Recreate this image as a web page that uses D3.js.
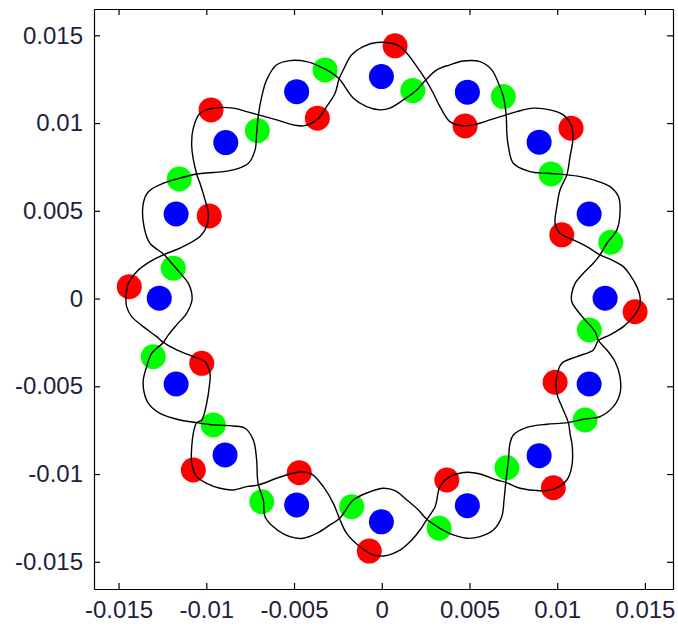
<!DOCTYPE html>
<html>
<head>
<meta charset="utf-8">
<script src="https://cdn.jsdelivr.net/npm/d3@7"></script>
<style>
  body { margin: 0; background: #fff; }
  svg { display: block; }
  .tick text { font-family: "Liberation Sans", Arial, sans-serif; font-size: 24px; fill: #1e1e3c; }
  .domain, .tick line { stroke: #000; stroke-width: 1.2; }
</style>
</head>
<body>
<div id="chart"></div>
<script>
const width = 678,
    height = 626,
    margin = { top: 9, bottom: 37, left: 94, right: 5 },
    radius = 12.5;

// tick labels
const xTicks = [-0.015, -0.01, -0.005, 0, 0.005, 0.01, 0.015];
const yTicks = [-0.015, -0.01, -0.005, 0, 0.005, 0.01, 0.015];

// marker positions
const bluePts = [
    [-0.00002, 0.01265], [0.00488, 0.01176], [0.00897, 0.00891], [0.01182, 0.00482],
    [0.01273, 0.00002], [0.01182, -0.00487], [0.00897, -0.00895], [0.00488, -0.01180],
    [-0.00002, -0.01272], [-0.00485, -0.01176], [-0.00893, -0.00891], [-0.01172, -0.00487],
    [-0.01268, 0.00002], [-0.01172, 0.00482], [-0.00889, 0.00889], [-0.00485, 0.01179]
];

const redPts = [
    [0.00076, 0.01440], [0.00475, 0.00984], [0.01079, 0.00971], [0.01026, 0.00363],
    [0.01444, -0.00075], [0.00988, -0.00477], [0.00978, -0.01078], [0.00371, -0.01034],
    [-0.00071, -0.01439], [-0.00470, -0.00992], [-0.01074, -0.00977], [-0.01026, -0.00369],
    [-0.01439, 0.00068], [-0.00983, 0.00471], [-0.00973, 0.01075], [-0.00367, 0.01028]
];

const greenPts = [
    [-0.00323, 0.01303], [0.00177, 0.01185], [0.00693, 0.01151], [0.00965, 0.00710],
    [0.01305, 0.00321], [0.01183, -0.00179], [0.01159, -0.00692], [0.00713, -0.00964],
    [0.00327, -0.01309], [-0.00171, -0.01186], [-0.00684, -0.01158], [-0.00960, -0.00720],
    [-0.01302, -0.00331], [-0.01188, 0.00173], [-0.01154, 0.00682], [-0.00709, 0.00957]
];

// the black curve, two closed strands that weave around the blue dots
const strandA = [
    [-0.00243, 0.01252],
    [-0.00219, 0.01303], [-0.00171, 0.01389], [-0.00105, 0.01436], [-0.00029, 0.01459], [0.00086, 0.01446], [0.00143, 0.01398], [0.00200, 0.01322],
    [0.00251, 0.01246],
    [0.00294, 0.01170], [0.00332, 0.01094], [0.00389, 0.01008], [0.00465, 0.00984], [0.00542, 0.00995], [0.00617, 0.01018],
    [0.00709, 0.01047],
    [0.00770, 0.01065], [0.00864, 0.01085], [0.00959, 0.01075], [0.01035, 0.01047], [0.01083, 0.00980], [0.01089, 0.00904], [0.01073, 0.00809],
    [0.01055, 0.00705],
    [0.01016, 0.00619], [0.00998, 0.00524], [0.00988, 0.00429], [0.01016, 0.00372], [0.01092, 0.00334], [0.01169, 0.00296],
    [0.01244, 0.00249],
    [0.01311, 0.00220], [0.01377, 0.00182], [0.01415, 0.00135], [0.01454, 0.00068], [0.01472, 0.00011], [0.01468, -0.00046], [0.01434, -0.00103], [0.01377, -0.00160], [0.01301, -0.00207],
    [0.01235, -0.00239],
    [0.01206, -0.00293], [0.01112, -0.00331], [0.01026, -0.00369], [0.00998, -0.00445], [0.00998, -0.00540], [0.01035, -0.00635],
    [0.01064, -0.00707],
    [0.01073, -0.00768], [0.01086, -0.00844], [0.01083, -0.00958], [0.01055, -0.01034], [0.00978, -0.01087], [0.00902, -0.01095], [0.00788, -0.01081],
    [0.00707, -0.01047],
    [0.00656, -0.01034], [0.00560, -0.01000], [0.00485, -0.00990], [0.00389, -0.01015], [0.00332, -0.01072], [0.00304, -0.01186],
    [0.00257, -0.01258],
    [0.00218, -0.01319], [0.00171, -0.01376], [0.00104, -0.01433], [0.00009, -0.01467], [-0.00048, -0.01461], [-0.00124, -0.01414], [-0.00200, -0.01338],
    [-0.00241, -0.01253],
    [-0.00276, -0.01167], [-0.00333, -0.01072], [-0.00399, -0.01000], [-0.00456, -0.00987], [-0.00523, -0.01000], [-0.00599, -0.01024],
    [-0.00703, -0.01062],
    [-0.00770, -0.01072], [-0.00846, -0.01091], [-0.00922, -0.01081], [-0.00998, -0.01053], [-0.01055, -0.01015], [-0.01083, -0.00939], [-0.01083, -0.00844], [-0.01074, -0.00768],
    [-0.01055, -0.00707],
    [-0.01026, -0.00692], [-0.00998, -0.00597], [-0.00983, -0.00502], [-0.00979, -0.00426], [-0.01007, -0.00360], [-0.01074, -0.00331], [-0.01169, -0.00293],
    [-0.01245, -0.00250],
    [-0.01283, -0.00217], [-0.01359, -0.00160], [-0.01425, -0.00103], [-0.01454, -0.00046], [-0.01457, 0.00021], [-0.01444, 0.00087], [-0.01397, 0.00153], [-0.01321, 0.00210],
    [-0.01241, 0.00251],
    [-0.01150, 0.00287], [-0.01036, 0.00353], [-0.00998, 0.00410], [-0.00988, 0.00486], [-0.01007, 0.00562], [-0.01036, 0.00657],
    [-0.01055, 0.00710],
    [-0.01083, 0.00866], [-0.01074, 0.00971], [-0.01036, 0.01056], [-0.00960, 0.01085], [-0.00846, 0.01085], [-0.00770, 0.01065],
    [-0.00703, 0.01047],
    [-0.00599, 0.01018], [-0.00504, 0.00990], [-0.00447, 0.00984], [-0.00371, 0.01018], [-0.00314, 0.01094], [-0.00266, 0.01170]
];

const strandB = [
    [-0.00243, 0.01252],
    [-0.00162, 0.01142], [-0.00086, 0.01094], [-0.00010, 0.01075], [0.00047, 0.01085], [0.00123, 0.01132], [0.00200, 0.01189],
    [0.00251, 0.01246],
    [0.00314, 0.01303], [0.00389, 0.01332], [0.00465, 0.01354], [0.00560, 0.01350], [0.00627, 0.01303], [0.00665, 0.01227], [0.00693, 0.01151],
    [0.00709, 0.01047],
    [0.00713, 0.00942], [0.00722, 0.00866], [0.00750, 0.00771], [0.00845, 0.00723], [0.00941, 0.00714],
    [0.01055, 0.00705],
    [0.01130, 0.00695], [0.01206, 0.00676], [0.01301, 0.00638], [0.01349, 0.00581], [0.01358, 0.00486], [0.01340, 0.00391], [0.01283, 0.00315],
    [0.01244, 0.00249],
    [0.01206, 0.00201], [0.01149, 0.00144], [0.01102, 0.00087], [0.01083, 0.00030], [0.01083, -0.00018], [0.01112, -0.00065], [0.01159, -0.00122], [0.01216, -0.00189],
    [0.01235, -0.00239],
    [0.01283, -0.00293], [0.01330, -0.00360], [0.01358, -0.00445], [0.01358, -0.00540], [0.01320, -0.00616], [0.01244, -0.00673], [0.01149, -0.00688],
    [0.01064, -0.00707],
    [0.01016, -0.00711], [0.00941, -0.00716], [0.00827, -0.00734], [0.00750, -0.00777], [0.00731, -0.00825], [0.00722, -0.00920],
    [0.00707, -0.01047],
    [0.00697, -0.01148], [0.00684, -0.01243], [0.00636, -0.01319], [0.00560, -0.01357], [0.00485, -0.01366], [0.00408, -0.01347], [0.00332, -0.01309],
    [0.00257, -0.01258],
    [0.00209, -0.01205], [0.00143, -0.01148], [0.00076, -0.01095], [0.00009, -0.01081], [-0.00067, -0.01101], [-0.00162, -0.01148],
    [-0.00241, -0.01253],
    [-0.00295, -0.01290], [-0.00371, -0.01338], [-0.00447, -0.01366], [-0.00523, -0.01357], [-0.00618, -0.01300], [-0.00665, -0.01243], [-0.00675, -0.01148],
    [-0.00703, -0.01062],
    [-0.00709, -0.01015], [-0.00713, -0.00920], [-0.00732, -0.00806], [-0.00779, -0.00739], [-0.00846, -0.00726], [-0.00960, -0.00720],
    [-0.01055, -0.00707],
    [-0.01150, -0.00692], [-0.01264, -0.00654], [-0.01330, -0.00597], [-0.01355, -0.00531], [-0.01359, -0.00464], [-0.01340, -0.00388], [-0.01311, -0.00312],
    [-0.01245, -0.00250],
    [-0.01216, -0.00207], [-0.01169, -0.00150], [-0.01112, -0.00084], [-0.01083, -0.00018], [-0.01083, 0.00030], [-0.01102, 0.00087], [-0.01140, 0.00135], [-0.01197, 0.00201],
    [-0.01241, 0.00251],
    [-0.01321, 0.00315], [-0.01355, 0.00410], [-0.01359, 0.00543], [-0.01330, 0.00609], [-0.01245, 0.00657], [-0.01150, 0.00686],
    [-0.01055, 0.00710],
    [-0.00960, 0.00718], [-0.00846, 0.00733], [-0.00760, 0.00771], [-0.00722, 0.00847], [-0.00713, 0.00942],
    [-0.00703, 0.01047],
    [-0.00684, 0.01151], [-0.00656, 0.01246], [-0.00599, 0.01332], [-0.00523, 0.01356], [-0.00428, 0.01350], [-0.00352, 0.01322], [-0.00295, 0.01292]
];

const fmt = d => String(+d.toFixed(3));

const svg = d3.select("#chart")
    .append("svg")
    .attr("width", width)
    .attr("height", height);

const x = d3.scaleLinear()
    .domain([-0.0164, 0.0166])
    .range([margin.left, width - margin.right]);

const y = d3.scaleLinear()
    .domain([-0.01655, 0.0165])
    .range([height - margin.bottom, margin.top]);

// dots first, the curve is drawn over them
svg.append("g")
    .selectAll("circle")
    .data(bluePts)
    .join("circle")
    .attr("cx", d => x(d[0]))
    .attr("cy", d => y(d[1]))
    .attr("r", radius)
    .attr("fill", "#0000ff");

svg.append("g")
    .selectAll("circle")
    .data(greenPts)
    .join("circle")
    .attr("cx", d => x(d[0]))
    .attr("cy", d => y(d[1]))
    .attr("r", radius)
    .attr("fill", "#00ff00");

svg.append("g")
    .selectAll("circle")
    .data(redPts)
    .join("circle")
    .attr("cx", d => x(d[0]))
    .attr("cy", d => y(d[1]))
    .attr("r", radius)
    .attr("fill", "#ff0000");

const line = d3.line()
    .curve(d3.curveCatmullRomClosed.alpha(0.5))
    .x(d => x(d[0]))
    .y(d => y(d[1]));

svg.selectAll("path.strand")
    .data([strandA, strandB])
    .join("path")
    .attr("class", "strand")
    .attr("fill", "none")
    .attr("stroke", "#000")
    .attr("stroke-width", 1.4)
    .attr("stroke-linejoin", "round")
    .attr("d", line);

// box with inward ticks on all four sides
svg.append("g")
    .attr("transform", `translate(0, ${height - margin.bottom})`)
    .call(d3.axisBottom(x).tickValues(xTicks).tickSizeInner(-6).tickSizeOuter(0).tickPadding(12).tickFormat(fmt));

svg.append("g")
    .attr("transform", `translate(0, ${margin.top})`)
    .call(d3.axisTop(x).tickValues(xTicks).tickSizeInner(-6).tickSizeOuter(0).tickFormat(""));

svg.append("g")
    .attr("transform", `translate(${margin.left}, 0)`)
    .call(d3.axisLeft(y).tickValues(yTicks).tickSizeInner(-6).tickSizeOuter(0).tickPadding(11).tickFormat(fmt));

svg.append("g")
    .attr("transform", `translate(${width - margin.right}, 0)`)
    .call(d3.axisRight(y).tickValues(yTicks).tickSizeInner(-6).tickSizeOuter(0).tickFormat(""));
</script>
</body>
</html>
